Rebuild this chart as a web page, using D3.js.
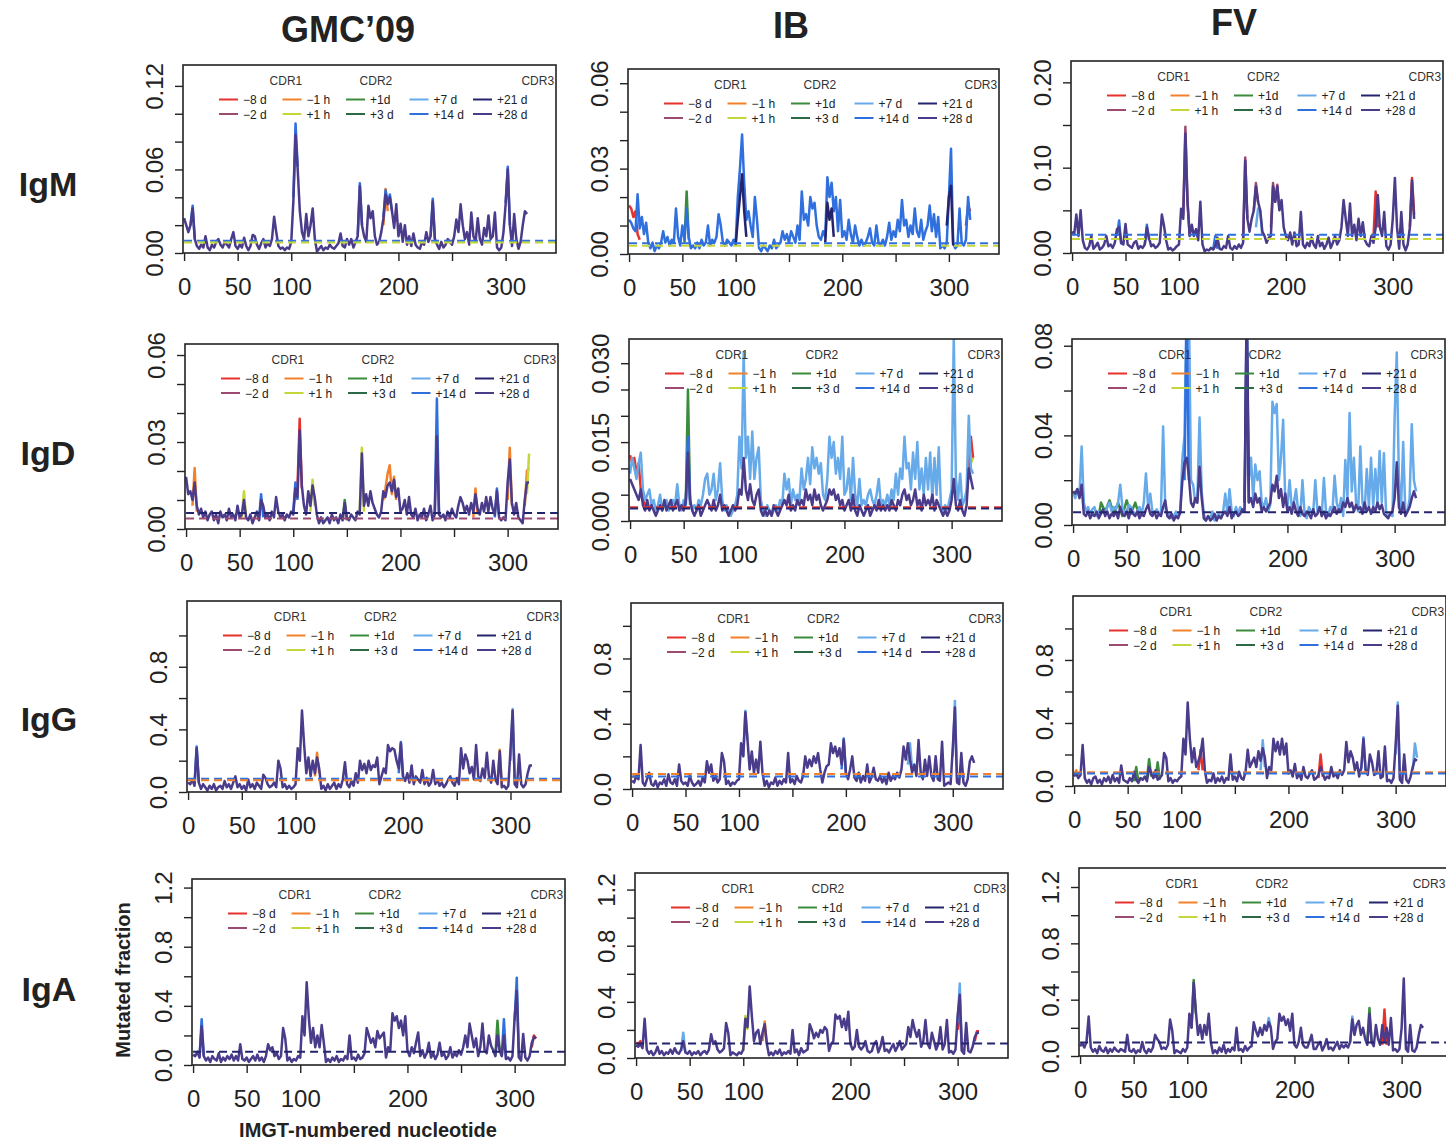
<!DOCTYPE html>
<html>
<head>
<meta charset="utf-8">
<script src="https://cdn.jsdelivr.net/npm/d3@7"></script>
<style>
  body { margin: 0; background: #fff; }
  text { font-family: "Liberation Sans", Arial, Helvetica, sans-serif; }
</style>
</head>
<body>
<div id="chart"></div>
<script>
// ---- labels ----
var isotypes = ["IgM", "IgD", "IgG", "IgA"];
var cohorts = ["GMC\u201909", "IB", "FV"];
var seriesLabels = ["\u22128 d", "\u22122 d", "\u22121 h", "+1 h", "+1d", "+3 d", "+7 d", "+14 d", "+21 d", "+28 d"];
var cdrLabels = ["CDR1", "CDR2", "CDR3"];
var cdrPositions = [95, 179, 330];
var xTicks = [0, 50, 100, 150, 200, 250, 300];
var xTickLabels = ["0", "50", "100", "", "200", "", "300"];

// ---- y ticks per panel ----
var yTicksIgmGmc = [0, .02, .04, .06, .08, .10, .12], yLabelsIgmGmc = ["0.00", "", "", "0.06", "", "", "0.12"];
var yTicksIgmIb = [0, .01, .02, .03, .04, .05, .06], yLabelsIgmIb = ["0.00", "", "", "0.03", "", "", "0.06"];
var yTicksIgmFv = [0, .05, .10, .15, .20], yLabelsIgmFv = ["0.00", "", "0.10", "", "0.20"];
var yTicksIgdGmc = [0, .01, .02, .03, .04, .05, .06], yLabelsIgdGmc = ["0.00", "", "", "0.03", "", "", "0.06"];
var yTicksIgdIb = [0, .005, .010, .015, .020, .025, .030], yLabelsIgdIb = ["0.000", "", "", "0.015", "", "", "0.030"];
var yTicksIgdFv = [0, .02, .04, .06, .08], yLabelsIgdFv = ["0.00", "", "0.04", "", "0.08"];
var yTicksIgg = [0, .2, .4, .6, .8, 1.0], yLabelsIgg = ["0.0", "", "0.4", "", "0.8", ""];
var yTicksIga = [0, .2, .4, .6, .8, 1.0, 1.2], yLabelsIga = ["0.0", "", "0.4", "", "0.8", "", "1.2"];

// ---- mutated fraction, nucleotides 0,2,4,...,320 ----
var igmGmc = [
  .025,.02,.015,.02,.032,.01,.005,.003,.006,.004,
  .012,.004,.002,.006,.004,.008,.01,.006,.004,.008,
  .006,.004,.01,.015,.005,.003,.006,.004,.011,.005,
  .002,.005,.013,.012,.006,.003,.007,.01,.004,.007,
  .005,.01,.026,.015,.005,.003,.004,.002,.004,.003,
  .008,.038,.085,.06,.03,.015,.01,.028,.012,.02,
  .032,.01,.001,.003,.005,.002,.004,.003,.006,.004,
  .003,.005,.007,.014,.005,.004,.01,.006,.01,.004,
  .008,.012,.048,.02,.012,.008,.034,.025,.03,.012,
  .006,.008,.015,.025,.042,.035,.04,.03,.018,.035,
  .012,.021,.008,.02,.006,.012,.005,.014,.006,.004,
  .003,.008,.006,.015,.008,.012,.037,.01,.006,.003,
  .008,.004,.006,.01,.008,.006,.012,.024,.015,.035,
  .02,.01,.015,.006,.029,.012,.008,.025,.01,.006,
  .018,.012,.027,.01,.012,.029,.004,.002,.004,.015,
  .035,.06,.02,.005,.028,.01,.003,.008,.02,.03,
  .028];
var igmIb = [
  .012,.011,.009,.008,.021,.009,.013,.007,.011,.004,
  .002,.004,.001,.003,.002,.004,.008,.004,.006,.003,
  .005,.004,.016,.006,.003,.01,.005,.016,.006,.002,
  .003,.002,.004,.002,.005,.003,.004,.01,.003,.005,
  .004,.006,.014,.01,.004,.003,.005,.004,.003,.005,
  .004,.02,.03,.042,.025,.012,.015,.01,.006,.02,
  .012,.002,.001,.003,.002,.001,.003,.002,.005,.002,
  .003,.004,.008,.005,.007,.004,.008,.006,.004,.01,
  .005,.022,.012,.014,.01,.02,.016,.018,.01,.006,
  .005,.008,.006,.027,.02,.025,.015,.02,.008,.019,
  .006,.008,.005,.012,.007,.004,.01,.006,.003,.005,
  .003,.004,.006,.009,.004,.003,.01,.004,.003,.005,
  .003,.006,.011,.005,.008,.006,.012,.008,.019,.01,
  .012,.006,.01,.007,.016,.008,.006,.012,.005,.008,
  .01,.017,.008,.014,.006,.013,.002,.003,.002,.004,
  .02,.037,.004,.002,.003,.016,.004,.003,.005,.02,
  .012];
var igmFv = [
  .025,.022,.045,.02,.05,.015,.006,.004,.008,.02,
  .005,.008,.012,.004,.006,.01,.02,.008,.01,.006,
  .012,.028,.03,.012,.01,.034,.01,.008,.006,.012,
  .014,.005,.008,.006,.01,.03,.018,.008,.01,.006,
  .008,.012,.045,.032,.015,.004,.006,.003,.005,.008,
  .01,.052,.04,.14,.06,.02,.033,.02,.028,.015,
  .06,.01,.002,.004,.003,.006,.004,.008,.018,.005,
  .004,.008,.006,.02,.006,.004,.008,.005,.01,.006,
  .012,.108,.04,.025,.04,.05,.078,.06,.05,.025,
  .02,.012,.018,.02,.078,.06,.078,.05,.062,.03,
  .02,.015,.024,.01,.024,.008,.01,.048,.01,.006,
  .012,.008,.018,.01,.006,.02,.008,.012,.005,.01,
  .018,.006,.012,.02,.01,.015,.03,.062,.04,.02,
  .058,.02,.033,.015,.04,.02,.036,.015,.01,.008,
  .02,.012,.03,.068,.03,.02,.048,.008,.004,.01,
  .04,.088,.03,.005,.048,.01,.003,.01,.03,.085,
  .04];
var igdGmc = [
  .018,.012,.013,.01,.016,.008,.005,.007,.004,.006,
  .003,.005,.006,.003,.005,.002,.006,.004,.005,.003,
  .007,.004,.005,.003,.008,.004,.005,.01,.004,.003,
  .005,.002,.004,.006,.003,.01,.008,.004,.005,.003,
  .006,.004,.011,.006,.004,.005,.003,.005,.004,.006,
  .005,.014,.011,.034,.015,.008,.005,.013,.008,.015,
  .011,.005,.002,.004,.002,.003,.004,.002,.005,.003,
  .004,.002,.005,.003,.009,.004,.003,.005,.004,.003,
  .006,.005,.026,.008,.012,.008,.013,.009,.007,.005,
  .004,.006,.013,.011,.015,.016,.013,.017,.011,.014,
  .006,.007,.01,.005,.011,.005,.004,.007,.003,.005,
  .004,.007,.003,.005,.008,.003,.005,.032,.005,.004,
  .005,.003,.006,.004,.007,.005,.004,.008,.011,.009,
  .006,.008,.005,.009,.006,.012,.007,.005,.009,.006,
  .011,.006,.011,.007,.005,.013,.004,.003,.004,.003,
  .016,.024,.009,.005,.009,.004,.003,.002,.01,.016,
  .016];
var igdIb = [
  .008,.007,.006,.005,.004,.006,.003,.002,.004,.002,
  .003,.002,.001,.002,.003,.002,.004,.002,.003,.004,
  .002,.003,.004,.002,.003,.002,.004,.013,.004,.002,
  .001,.002,.003,.001,.002,.003,.004,.003,.002,.004,
  .002,.003,.005,.002,.003,.002,.001,.002,.003,.002,
  .003,.006,.005,.012,.006,.004,.007,.004,.003,.005,
  .006,.002,.001,.002,.001,.002,.001,.003,.002,.001,
  .002,.003,.004,.003,.005,.002,.003,.002,.004,.003,
  .004,.003,.006,.004,.005,.003,.006,.004,.005,.003,
  .002,.003,.004,.006,.005,.006,.004,.005,.003,.004,
  .002,.003,.004,.002,.005,.002,.001,.003,.002,.001,
  .002,.003,.001,.002,.003,.002,.004,.002,.003,.002,
  .003,.002,.004,.003,.002,.004,.003,.005,.006,.004,
  .005,.003,.004,.006,.003,.004,.002,.005,.003,.004,
  .003,.005,.002,.004,.003,.002,.001,.002,.001,.002,
  .004,.008,.003,.002,.004,.002,.001,.003,.01,.008,
  .006];
var igdIb7d = [
  .009,.012,.01,.008,.011,.013,.006,.004,.005,.006,
  .003,.004,.002,.003,.005,.002,.003,.004,.002,.003,
  .004,.003,.007,.003,.002,.004,.003,.015,.004,.002,
  .003,.002,.004,.003,.005,.008,.009,.005,.006,.009,
  .004,.006,.011,.004,.002,.003,.002,.001,.002,.003,
  .005,.016,.01,.032,.012,.016,.008,.017,.008,.012,
  .014,.004,.002,.001,.003,.002,.001,.002,.003,.002,
  .004,.003,.009,.006,.008,.003,.006,.004,.005,.004,
  .01,.006,.008,.012,.007,.014,.01,.012,.009,.011,
  .005,.004,.008,.016,.012,.015,.009,.012,.008,.016,
  .005,.006,.01,.004,.012,.005,.003,.008,.003,.004,
  .003,.005,.006,.004,.003,.005,.008,.003,.004,.003,
  .005,.003,.006,.004,.009,.005,.01,.008,.016,.01,
  .011,.006,.013,.008,.015,.006,.01,.005,.012,.006,
  .013,.004,.012,.005,.014,.003,.002,.003,.002,.004,
  .006,.035,.008,.004,.009,.003,.004,.006,.02,.01,
  .009];
var igdFv = [
  .015,.014,.016,.012,.018,.005,.004,.006,.003,.005,
  .004,.006,.003,.005,.007,.004,.006,.003,.005,.004,
  .006,.003,.008,.005,.004,.006,.003,.007,.005,.004,
  .006,.003,.005,.004,.007,.009,.005,.004,.006,.003,
  .005,.004,.008,.011,.004,.003,.005,.002,.004,.003,
  .006,.02,.028,.03,.022,.01,.008,.012,.01,.026,
  .012,.003,.002,.004,.002,.003,.005,.002,.004,.003,
  .005,.006,.004,.008,.003,.005,.006,.004,.005,.007,
  .006,.09,.01,.012,.008,.014,.01,.012,.006,.008,
  .006,.008,.01,.018,.015,.022,.012,.016,.008,.014,
  .006,.008,.005,.01,.006,.004,.008,.005,.004,.006,
  .005,.003,.007,.004,.005,.008,.004,.006,.003,.005,
  .004,.006,.008,.005,.007,.006,.01,.008,.012,.008,
  .01,.006,.009,.007,.008,.005,.01,.006,.008,.005,
  .008,.006,.01,.007,.009,.005,.004,.003,.005,.006,
  .012,.028,.008,.005,.01,.004,.006,.008,.012,.015,
  .012];
var igdFv7d = [
  .015,.012,.016,.014,.035,.01,.006,.008,.005,.007,
  .008,.004,.006,.005,.007,.005,.008,.01,.006,.008,
  .007,.01,.018,.008,.005,.006,.009,.008,.006,.005,
  .006,.008,.005,.01,.023,.008,.014,.006,.005,.007,
  .005,.006,.044,.008,.004,.005,.003,.004,.006,.004,
  .005,.03,.04,.1,.1,.02,.018,.01,.012,.048,
  .015,.005,.002,.004,.003,.006,.002,.004,.005,.003,
  .006,.014,.005,.016,.006,.004,.008,.005,.008,.006,
  .008,.1,.02,.03,.012,.027,.02,.024,.01,.008,
  .012,.006,.009,.055,.05,.054,.02,.03,.047,.01,
  .008,.02,.008,.01,.016,.006,.004,.02,.005,.003,
  .008,.006,.005,.02,.006,.008,.004,.021,.006,.004,
  .008,.006,.022,.01,.006,.012,.004,.029,.012,.05,
  .015,.03,.01,.006,.035,.01,.006,.025,.008,.03,
  .008,.025,.01,.033,.01,.032,.006,.004,.005,.004,
  .048,.077,.02,.008,.037,.005,.006,.012,.045,.02,
  .015];
var iggGmc = [
  .06,.05,.08,.04,.28,.06,.02,.05,.03,.01,
  .04,.02,.05,.01,.03,.04,.02,.07,.03,.05,
  .02,.06,.1,.03,.05,.02,.04,.01,.08,.03,
  .05,.02,.06,.04,.02,.11,.09,.05,.03,.04,
  .06,.03,.2,.15,.03,.05,.02,.04,.02,.03,
  .05,.28,.2,.52,.3,.12,.22,.1,.2,.12,
  .22,.15,.02,.04,.01,.05,.02,.04,.06,.02,
  .05,.03,.08,.19,.05,.03,.07,.04,.12,.06,
  .2,.14,.18,.12,.2,.14,.17,.16,.22,.05,
  .1,.15,.12,.3,.26,.28,.27,.2,.15,.31,
  .1,.07,.12,.06,.17,.05,.1,.08,.06,.14,
  .05,.09,.04,.06,.14,.05,.08,.04,.06,.03,
  .05,.08,.1,.06,.04,.09,.05,.28,.15,.24,
  .2,.12,.16,.08,.3,.1,.07,.15,.09,.25,
  .1,.06,.2,.08,.05,.26,.03,.04,.02,.04,
  .27,.52,.05,.03,.24,.05,.03,.05,.12,.17,
  .17];
var iggIb = [
  .05,.04,.08,.06,.27,.04,.02,.06,.1,.03,
  .02,.05,.01,.04,.03,.06,.02,.09,.04,.03,
  .06,.02,.15,.05,.03,.04,.02,.08,.04,.02,
  .03,.05,.02,.07,.04,.17,.1,.15,.05,.08,
  .04,.06,.22,.17,.03,.05,.02,.04,.03,.05,
  .06,.28,.2,.47,.3,.12,.23,.1,.18,.1,
  .29,.1,.02,.05,.01,.04,.03,.07,.02,.05,
  .03,.06,.04,.22,.04,.06,.03,.08,.05,.04,
  .08,.2,.13,.18,.14,.2,.16,.22,.12,.04,
  .1,.14,.15,.28,.22,.26,.2,.25,.15,.3,
  .1,.06,.12,.2,.07,.05,.1,.04,.08,.05,
  .15,.04,.07,.13,.06,.05,.08,.04,.07,.03,
  .1,.05,.08,.06,.1,.07,.12,.26,.18,.28,
  .18,.1,.15,.08,.3,.1,.06,.18,.08,.2,
  .08,.05,.2,.06,.05,.29,.02,.03,.04,.03,
  .25,.5,.04,.03,.22,.04,.02,.06,.17,.2,
  .16];
var iggFv = [
  .06,.08,.05,.07,.26,.05,.02,.04,.01,.05,
  .06,.02,.04,.01,.05,.03,.06,.02,.07,.03,
  .05,.02,.13,.04,.03,.02,.05,.03,.09,.04,
  .02,.05,.04,.06,.03,.12,.08,.05,.1,.04,
  .05,.07,.21,.18,.03,.05,.02,.04,.03,.05,
  .06,.3,.2,.53,.3,.15,.24,.12,.16,.2,
  .3,.1,.02,.04,.03,.08,.02,.05,.03,.06,
  .02,.05,.04,.2,.04,.06,.03,.09,.05,.04,
  .09,.23,.12,.15,.18,.12,.22,.16,.24,.18,
  .05,.12,.1,.3,.22,.28,.2,.3,.2,.27,
  .08,.1,.06,.14,.05,.08,.04,.12,.06,.05,
  .08,.1,.04,.05,.07,.12,.08,.04,.06,.05,
  .12,.06,.08,.05,.1,.07,.1,.28,.15,.22,
  .18,.1,.15,.06,.12,.3,.1,.07,.2,.15,
  .07,.08,.22,.05,.06,.25,.03,.04,.02,.05,
  .26,.51,.04,.02,.2,.04,.02,.06,.12,.17,
  .16];
var igaGmc = [
  .07,.06,.09,.05,.26,.06,.03,.05,.02,.06,
  .04,.03,.08,.02,.05,.03,.06,.04,.07,.03,
  .06,.03,.14,.04,.03,.05,.02,.04,.06,.03,
  .07,.03,.05,.02,.06,.14,.1,.12,.06,.08,
  .04,.06,.25,.18,.03,.05,.02,.04,.03,.06,
  .05,.33,.2,.56,.32,.15,.25,.12,.2,.12,
  .27,.15,.02,.04,.02,.05,.03,.06,.02,.04,
  .03,.06,.04,.2,.04,.05,.03,.07,.04,.05,
  .08,.25,.2,.15,.18,.12,.23,.18,.2,.22,
  .05,.12,.1,.35,.3,.33,.25,.3,.2,.33,
  .1,.06,.12,.08,.15,.22,.06,.1,.05,.08,
  .15,.05,.08,.04,.07,.15,.06,.08,.04,.06,
  .12,.05,.08,.06,.1,.07,.12,.2,.12,.28,
  .2,.12,.18,.06,.12,.28,.1,.08,.2,.13,
  .1,.06,.2,.1,.06,.2,.04,.05,.03,.06,
  .32,.5,.05,.03,.21,.05,.03,.06,.15,.19,
  .18];
var igaIb = [
  .09,.08,.1,.07,.28,.06,.03,.05,.02,.04,
  .08,.03,.05,.02,.04,.03,.06,.03,.07,.04,
  .03,.06,.12,.04,.03,.05,.02,.04,.03,.05,
  .02,.04,.05,.03,.06,.17,.1,.12,.06,.04,
  .05,.07,.25,.18,.02,.04,.03,.02,.04,.03,
  .06,.28,.22,.51,.3,.12,.18,.2,.1,.18,
  .24,.1,.02,.04,.02,.05,.03,.06,.02,.04,
  .03,.05,.03,.2,.04,.06,.02,.07,.04,.05,
  .06,.24,.2,.14,.18,.15,.2,.18,.22,.2,
  .05,.1,.12,.31,.28,.3,.22,.28,.2,.33,
  .1,.06,.08,.2,.08,.06,.08,.12,.05,.04,
  .05,.1,.12,.04,.08,.15,.05,.06,.04,.07,
  .1,.05,.08,.12,.06,.08,.1,.22,.15,.27,
  .2,.15,.2,.08,.12,.27,.1,.07,.18,.12,
  .06,.1,.22,.06,.1,.27,.04,.05,.03,.06,
  .3,.45,.05,.03,.25,.05,.04,.08,.15,.18,
  .18];
var igaFv = [
  .07,.09,.06,.1,.28,.06,.03,.05,.02,.07,
  .04,.03,.06,.02,.05,.03,.06,.04,.03,.05,
  .04,.03,.15,.04,.03,.05,.02,.04,.03,.1,
  .04,.02,.05,.03,.06,.15,.12,.1,.05,.06,
  .05,.08,.26,.18,.02,.04,.03,.02,.05,.03,
  .06,.3,.2,.52,.32,.15,.22,.12,.22,.15,
  .3,.1,.02,.04,.02,.06,.03,.08,.02,.05,
  .03,.06,.04,.2,.04,.05,.03,.07,.04,.06,
  .07,.24,.18,.14,.2,.15,.22,.18,.24,.2,
  .05,.1,.12,.3,.25,.28,.22,.26,.18,.3,
  .08,.06,.1,.2,.08,.06,.06,.1,.15,.05,
  .05,.08,.1,.04,.07,.12,.05,.06,.04,.07,
  .1,.05,.08,.06,.08,.06,.1,.26,.15,.22,
  .25,.15,.2,.12,.08,.3,.1,.07,.22,.12,
  .08,.22,.1,.2,.08,.27,.04,.05,.03,.05,
  .2,.55,.05,.03,.22,.04,.03,.06,.15,.22,
  .2];

// ---- other time points where they stand out: [series, [[nt, value], ...]] ----
var igmGmcAccents = [
  [2, [[186,.02],[188,.046],[190,.03]]],
  [7, [[6,.02],[8,.034],[10,.01]]],
  [7, [[102,.04],[104,.093],[106,.062]]],
  [7, [[162,.013],[164,.05],[166,.02]]],
  [7, [[186,.026],[188,.045],[190,.036],[192,.042],[194,.03]]],
  [7, [[230,.012],[232,.039],[234,.01]]],
  [7, [[300,.036],[302,.062],[304,.02]]]];
var igmIbAccents = [
  [0, [[0,.017],[2,.016],[4,.013],[6,.015],[8,.007],[10,.005]]],
  [0, [[316,.01],[318,.017],[320,.015]]],
  [4, [[52,.004],[54,.022],[56,.005]]],
  [8, [[100,.003],[102,.012],[104,.02],[106,.028],[108,.015],[110,.006]]],
  [8, [[184,.004],[186,.018],[188,.012],[190,.016],[192,.006]]],
  [8, [[298,.01],[300,.02],[302,.024],[304,.003]]]];
var igmFvAccents = [
  [0, [[282,.02],[284,.072],[286,.03]]],
  [0, [[316,.03],[318,.088],[320,.045]]],
  [1, [[102,.05],[104,.045],[106,.148],[108,.06],[110,.02]]],
  [1, [[160,.015],[162,.112],[164,.04]]],
  [1, [[170,.05],[172,.082],[174,.06]]],
  [1, [[186,.03],[188,.082],[190,.06],[192,.08],[194,.05]]],
  [2, [[318,.05],[320,.052]]],
  [6, [[172,.03],[174,.052],[176,.05],[178,.02]]],
  [7, [[42,.02],[44,.038],[46,.01]]],
  [7, [[68,.01],[70,.033],[72,.015]]],
  [7, [[132,.004],[134,.02],[136,.005]]]];
var igdGmcAccents = [
  [0, [[104,.015],[106,.038],[108,.014]]],
  [2, [[6,.008],[8,.021],[10,.006]]],
  [2, [[184,.01],[186,.014],[188,.019],[190,.022],[192,.012],[194,.018],[196,.01]]],
  [2, [[268,.004],[270,.014],[272,.005]]],
  [2, [[300,.01],[302,.028],[304,.008]]],
  [2, [[316,.008],[318,.02],[320,.021]]],
  [3, [[52,.004],[54,.013],[56,.004]]],
  [3, [[116,.006],[118,.017],[120,.008]]],
  [3, [[162,.006],[164,.028],[166,.006]]],
  [3, [[318,.012],[320,.026]]],
  [4, [[146,.003],[148,.01],[150,.003]]],
  [7, [[68,.003],[70,.012],[72,.004]]],
  [7, [[100,.006],[102,.016],[104,.01]]],
  [7, [[232,.005],[234,.045],[236,.005]]],
  [7, [[288,.004],[290,.014],[292,.005]]]];
var igdIbAccents = [
  [0, [[0,.0125],[2,.011],[4,.012],[6,.009],[8,.011],[10,.006],[12,.004],[14,.003]]],
  [0, [[314,.005],[316,.01],[318,.016],[320,.012]]],
  [3, [[318,.011],[320,.012]]],
  [4, [[52,.004],[54,.025],[56,.004]]],
  [7, [[52,.003],[54,.016],[56,.003]]]];
var igdFvAccents = [
  [4, [[24,.004],[26,.01],[30,.006],[34,.011],[38,.005],[42,.01],[46,.004],[50,.011],[54,.005],[58,.01],[62,.004]]],
  [7, [[104,.02],[106,.1],[108,.02]]],
  [8, [[160,.01],[162,.1],[164,.01]]]];
var iggGmcAccents = [
  [2, [[118,.1],[120,.25],[122,.12]]],
  [2, [[288,.06],[290,.27],[292,.03]]],
  [6, [[300,.2],[302,.53],[304,.05]]],
  [7, [[6,.05],[8,.29],[10,.06]]],
  [7, [[196,.12],[198,.32],[200,.1]]]];
var iggIbAccents = [
  [2, [[0,.07],[2,.08],[4,.06]]],
  [6, [[104,.2],[106,.48],[108,.3]]],
  [6, [[258,.15],[260,.28],[262,.12]]],
  [6, [[300,.2],[302,.54],[304,.05]]],
  [7, [[196,.12],[198,.31],[200,.1]]]];
var iggFvAccents = [
  [0, [[116,.1],[118,.23],[120,.1]]],
  [0, [[228,.05],[230,.2],[232,.06]]],
  [2, [[0,.07],[2,.1],[4,.06]]],
  [4, [[56,.03],[58,.12],[60,.03]]],
  [4, [[68,.05],[70,.17],[72,.06]]],
  [4, [[76,.05],[78,.15],[80,.04]]],
  [6, [[174,.1],[176,.29],[178,.12]]],
  [6, [[268,.1],[270,.31],[272,.1]]],
  [6, [[300,.2],[302,.53],[304,.05]]],
  [6, [[316,.1],[318,.27],[320,.18]]]];
var igaGmcAccents = [
  [0, [[316,.12],[318,.2],[320,.18]]],
  [4, [[282,.06],[284,.3],[286,.1]]],
  [7, [[6,.05],[8,.31],[10,.06]]],
  [7, [[288,.06],[290,.31],[292,.04]]],
  [7, [[300,.3],[302,.59],[304,.05]]]];
var igaIbAccents = [
  [0, [[0,.11],[2,.1],[4,.12],[6,.08]]],
  [0, [[300,.2],[302,.4],[304,.05]]],
  [0, [[316,.12],[318,.19],[320,.19]]],
  [2, [[118,.12],[120,.26],[122,.1]]],
  [3, [[100,.05],[102,.3],[104,.2]]],
  [6, [[42,.05],[44,.18],[46,.04]]],
  [6, [[300,.25],[302,.53],[304,.05]]]];
var igaFvAccents = [
  [0, [[282,.08],[284,.33],[286,.08]]],
  [4, [[104,.2],[106,.54],[108,.3]]],
  [4, [[268,.1],[270,.34],[272,.1]]],
  [6, [[174,.18],[176,.27],[178,.2]]],
  [6, [[252,.1],[254,.28],[256,.15]]]];

// ---- dashed mean levels: [value, series] ----
var igmGmcMeans = [[.0088, 7], [.0076, 3]];
var igmIbMeans = [[.0038, 7], [.0029, 3]];
var igmFvMeans = [[.0214, 7], [.0163, 3]];
var igdGmcMeans = [[.0055, 8], [.0036, 1]];
var igdIbMeans = [[.0026, 0], [.0024, 8]];
var igdFvMeans = [[.0057, 8]];
var iggGmcMeans = [[.085, 7], [.075, 2]];
var iggIbMeans = [[.092, 2], [.076, 7]];
var iggFvMeans = [[.087, 2], [.08, 7]];
var igaGmcMeans = [[.09, 8]];
var igaIbMeans = [[.104, 8]];
var igaFvMeans = [[.095, 8]];

// ---- styles / layout ----
var seriesColors = ["#e5322d", "#9c4a72", "#f3802a", "#c5d63a", "#3a8c3c", "#2c6a47",
                    "#66aaea", "#2f6fde", "#24246e", "#4a3b8b"];
var width = 1446, height = 1142;
var xDomain = [-1, 347];
// [left, right, top, bottom] of each plot box, row by row
var panelBoxes = [
  [183, 556, 65, 253], [628, 999, 69, 254], [1071, 1443, 61, 253],
  [185, 558, 344, 529], [629, 1002, 339, 521], [1072, 1445, 339, 525],
  [187, 561, 601, 792], [631, 1003, 603, 789], [1073, 1446, 596, 786],
  [192, 565, 879, 1065], [635, 1008, 873, 1058], [1079, 1452, 868, 1056]
];
var yTops = [.135, .065, .225, .0638, .0346, .083, 1.22, 1.14, 1.206, 1.258, 1.318, 1.335];

var panels = [
  {main: igmGmc, mainSeries: 9, accents: igmGmcAccents, means: igmGmcMeans, yTicks: yTicksIgmGmc, yLabels: yLabelsIgmGmc},
  {main: igmIb, mainSeries: 7, accents: igmIbAccents, means: igmIbMeans, yTicks: yTicksIgmIb, yLabels: yLabelsIgmIb},
  {main: igmFv, mainSeries: 9, accents: igmFvAccents, means: igmFvMeans, yTicks: yTicksIgmFv, yLabels: yLabelsIgmFv},
  {main: igdGmc, mainSeries: 9, accents: igdGmcAccents, means: igdGmcMeans, yTicks: yTicksIgdGmc, yLabels: yLabelsIgdGmc},
  {main: igdIb, mainSeries: 9, extra: igdIb7d, extraSeries: 6, accents: igdIbAccents, means: igdIbMeans, yTicks: yTicksIgdIb, yLabels: yLabelsIgdIb},
  {main: igdFv, mainSeries: 9, extra: igdFv7d, extraSeries: 6, accents: igdFvAccents, means: igdFvMeans, yTicks: yTicksIgdFv, yLabels: yLabelsIgdFv},
  {main: iggGmc, mainSeries: 9, accents: iggGmcAccents, means: iggGmcMeans, yTicks: yTicksIgg, yLabels: yLabelsIgg},
  {main: iggIb, mainSeries: 9, accents: iggIbAccents, means: iggIbMeans, yTicks: yTicksIgg, yLabels: yLabelsIgg},
  {main: iggFv, mainSeries: 9, accents: iggFvAccents, means: iggFvMeans, yTicks: yTicksIgg, yLabels: yLabelsIgg},
  {main: igaGmc, mainSeries: 9, accents: igaGmcAccents, means: igaGmcMeans, yTicks: yTicksIga, yLabels: yLabelsIga},
  {main: igaIb, mainSeries: 9, accents: igaIbAccents, means: igaIbMeans, yTicks: yTicksIga, yLabels: yLabelsIga},
  {main: igaFv, mainSeries: 9, accents: igaFvAccents, means: igaFvMeans, yTicks: yTicksIga, yLabels: yLabelsIga}
];

var svg = d3.select("#chart").append("svg")
  .attr("width", width)
  .attr("height", height)
  .style("background", "#fff");

panels.forEach(function(p, k) {
  var box = panelBoxes[k];
  var L = box[0], R = box[1], T = box[2], B = box[3];
  var x = d3.scaleLinear().domain(xDomain).range([L, R]);
  var y = d3.scaleLinear().domain([0, yTops[k]]).range([B, T]);
  var g = svg.append("g").attr("class", "panel");

  svg.append("clipPath").attr("id", "clip" + k)
    .append("rect").attr("x", L).attr("y", T).attr("width", R - L).attr("height", B - T);
  var plot = g.append("g").attr("clip-path", "url(#clip" + k + ")");

  var dense = d3.line().x(function(d, i) { return x(i * 2); }).y(function(d) { return y(d); });
  var sparse = d3.line().x(function(d) { return x(d[0]); }).y(function(d) { return y(d[1]); });

  function addPath(d, s) {
    plot.append("path")
      .attr("d", d)
      .attr("fill", "none")
      .attr("stroke", seriesColors[s])
      .attr("stroke-width", 2.5)
      .attr("stroke-linejoin", "round");
  }

  // draw in legend order so that later time points lie on top
  for (var s = 0; s < seriesColors.length; s++) {
    if (p.extra && p.extraSeries === s) addPath(dense(p.extra), s);
    p.accents.forEach(function(a) { if (a[0] === s) addPath(sparse(a[1]), s); });
    if (p.mainSeries === s) addPath(dense(p.main), s);
  }

  plot.selectAll(".mean").data(p.means)
    .enter().append("line")
      .attr("x1", x(0)).attr("x2", R)
      .attr("y1", function(d) { return y(d[0]); })
      .attr("y2", function(d) { return y(d[0]); })
      .attr("stroke", function(d) { return seriesColors[d[1]]; })
      .attr("stroke-width", 2)
      .attr("stroke-dasharray", "8,5");

  g.append("rect")
    .attr("x", L).attr("y", T).attr("width", R - L).attr("height", B - T)
    .attr("fill", "none").attr("stroke", "#222").attr("stroke-width", 1.6);

  var xAxis = g.append("g")
    .attr("transform", "translate(0," + B + ")")
    .call(d3.axisBottom(x).tickValues(xTicks)
      .tickFormat(function(d, i) { return xTickLabels[i]; })
      .tickSize(8).tickSizeOuter(0).tickPadding(17));
  xAxis.select(".domain").remove();
  xAxis.selectAll("line").attr("stroke", "#222").attr("stroke-width", 1.4);
  xAxis.selectAll("text").attr("font-size", 24).attr("fill", "#222")
    .attr("font-family", '"Liberation Sans", Arial, sans-serif');

  var yAxis = g.append("g")
    .attr("transform", "translate(" + L + ",0)")
    .call(d3.axisLeft(y).tickValues(p.yTicks)
      .tickFormat(function(d, i) { return p.yLabels[i]; })
      .tickSize(8).tickSizeOuter(0));
  yAxis.select(".domain").remove();
  yAxis.selectAll("line").attr("stroke", "#222").attr("stroke-width", 1.4);
  yAxis.selectAll("text")
    .attr("x", 0).attr("y", -20).attr("dy", 0)
    .attr("text-anchor", "middle")
    .attr("transform", "rotate(-90)")
    .attr("font-size", 24).attr("fill", "#222")
    .attr("font-family", '"Liberation Sans", Arial, sans-serif');

  // CDR markers (kept inside the page at the right edge)
  g.selectAll(".cdr").data(cdrLabels)
    .enter().append("text")
      .attr("x", function(d, i) { return Math.min(x(cdrPositions[i]), width - 17); })
      .attr("y", T + 20)
      .attr("text-anchor", "middle")
      .attr("font-size", 12)
      .attr("fill", "#333")
      .text(function(d) { return d; });

  // legend: 5 columns x 2 rows
  var leg = g.selectAll(".leg").data(seriesLabels)
    .enter().append("g")
      .attr("transform", function(d, i) {
        var col = Math.floor(i / 2), row = i % 2;
        return "translate(" + (L + 36 + col * 63.5) + "," + (T + 34.5 + row * 14.5) + ")";
      });
  leg.append("line")
    .attr("x1", 0).attr("x2", 19)
    .attr("stroke", function(d, i) { return seriesColors[i]; })
    .attr("stroke-width", 2);
  leg.append("text")
    .attr("x", 24).attr("y", 4.5)
    .attr("font-size", 12)
    .attr("fill", "#222")
    .text(function(d) { return d; });
});

// column titles
var titlePos = [[348, 42], [791, 38], [1234, 35]];
svg.selectAll(".title").data(cohorts)
  .enter().append("text")
    .attr("x", function(d, i) { return titlePos[i][0]; })
    .attr("y", function(d, i) { return titlePos[i][1]; })
    .attr("text-anchor", "middle")
    .attr("font-size", 36)
    .attr("font-weight", "bold")
    .attr("fill", "#222")
    .text(function(d) { return d; });

// row labels
var rowPos = [[48, 196], [48, 465], [49, 731], [49, 1001]];
svg.selectAll(".row").data(isotypes)
  .enter().append("text")
    .attr("x", function(d, i) { return rowPos[i][0]; })
    .attr("y", function(d, i) { return rowPos[i][1]; })
    .attr("text-anchor", "middle")
    .attr("font-size", 34)
    .attr("font-weight", "bold")
    .attr("fill", "#222")
    .text(function(d) { return d; });

// axis titles
svg.append("text")
  .attr("transform", "translate(130,980) rotate(-90)")
  .attr("text-anchor", "middle")
  .attr("font-size", 20)
  .attr("font-weight", "bold")
  .attr("fill", "#222")
  .text("Mutated fraction");

svg.append("text")
  .attr("x", 368).attr("y", 1137)
  .attr("text-anchor", "middle")
  .attr("font-size", 20)
  .attr("font-weight", "bold")
  .attr("fill", "#222")
  .text("IMGT-numbered nucleotide");
</script>
</body>
</html>
